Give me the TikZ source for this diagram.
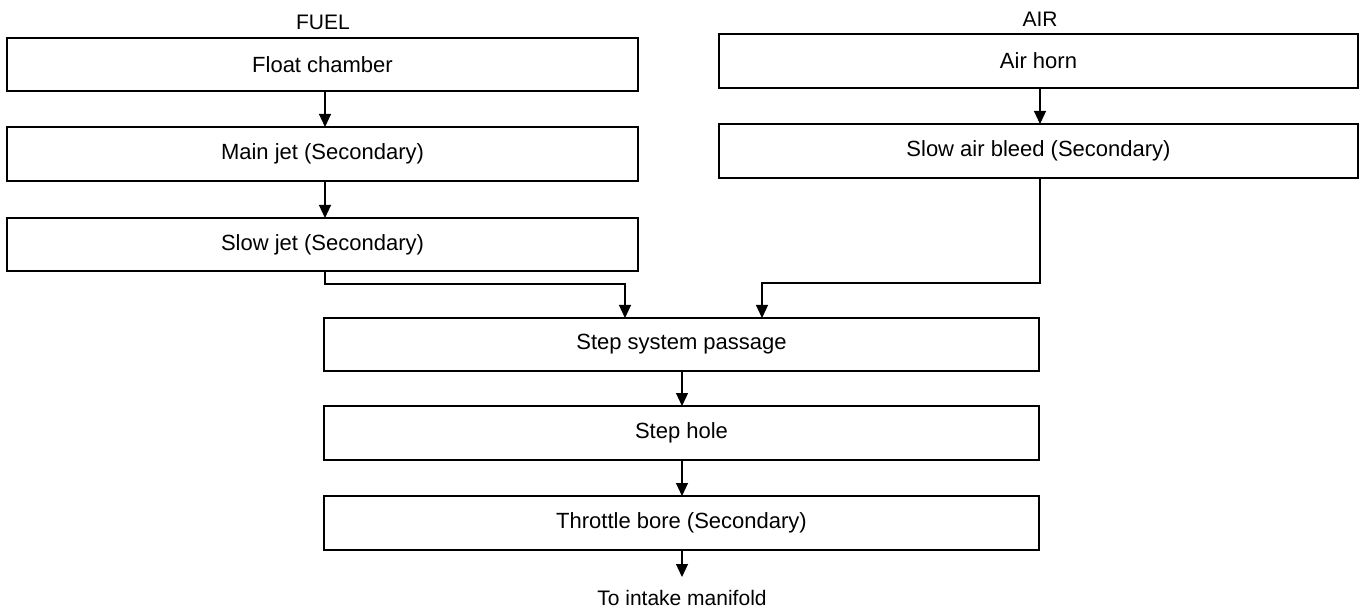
\documentclass[tikz,border=0pt]{standalone}
\usepackage{fontspec}
\setmainfont{Liberation Sans}
\usetikzlibrary{arrows.meta,calc}
\begin{document}
\begin{tikzpicture}[x=1pt,y=-1pt,
  box/.style={draw,line width=1.7pt,rectangle,inner sep=0pt,outer sep=0pt,
    font=\fontsize{22}{26}\selectfont},
  lbl/.style={inner sep=0pt,font=\fontsize{21}{25}\selectfont},
  arr/.style={line width=1.2pt,-{Triangle[width=12pt,length=13pt]}}]
\useasboundingbox (0,0) rectangle (1366,612);
% headings
\node[lbl] (fuel) at (323,22) {FUEL};
\node[lbl] (air) at (1040,19) {AIR};
% left column
\node[box,minimum width=631pt,minimum height=53pt] (float) at (322.5,64.5) {Float chamber};
\node[box,minimum width=631pt,minimum height=54pt] (main) at (322.5,154) {Main jet (Secondary)};
\node[box,minimum width=631pt,minimum height=53pt] (slow) at (322.5,244.5) {Slow jet (Secondary)};
% right column
\node[box,minimum width=639pt,minimum height=54pt] (horn) at (1038.5,61) {Air horn};
\node[box,minimum width=639pt,minimum height=54pt] (bleed) at (1038.5,151) {Slow air bleed (Secondary)};
% centre column
\node[box,minimum width=715pt,minimum height=53pt] (passage) at (681.5,344.5) {Step system passage};
\node[box,minimum width=715pt,minimum height=54pt] (hole) at (681.5,433) {Step hole};
\node[box,minimum width=715pt,minimum height=54pt] (bore) at (681.5,523) {Throttle bore (Secondary)};
\node[lbl] (out) at (682,598) {To intake manifold};
% guide coordinates
\coordinate (xl) at (325,0);
\coordinate (xr) at (1040,0);
\coordinate (xc) at (682,0);
\coordinate (jl) at (625,284);
\coordinate (jr) at (762,283);
\coordinate (tip) at (682,577);
% connectors
\draw[arr] (float.south -| xl) -- (main.north -| xl);
\draw[arr] (main.south -| xl) -- (slow.north -| xl);
\draw[arr] (horn.south -| xr) -- (bleed.north -| xr);
\draw[arr] (slow.south -| xl) |- (jl) -- (passage.north -| jl);
\draw[arr] (bleed.south -| xr) |- (jr) -- (passage.north -| jr);
\draw[arr] (passage.south -| xc) -- (hole.north -| xc);
\draw[arr] (hole.south -| xc) -- (bore.north -| xc);
\draw[arr] (bore.south -| xc) -- (tip);
\end{tikzpicture}
\end{document}
